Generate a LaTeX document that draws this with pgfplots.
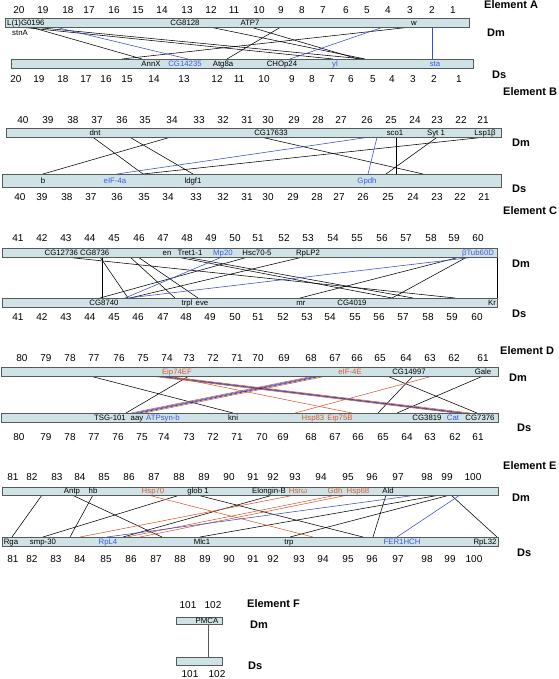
\documentclass[border=0pt]{standalone}
\usepackage{pgfplots}
\pgfplotsset{compat=1.18}
\usepackage{fontspec}
\setmainfont{Liberation Sans}
\definecolor{barfill}{RGB}{207,227,230}
\definecolor{barline}{RGB}{85,90,90}
\definecolor{lblue}{RGB}{55,75,205}
\definecolor{dblue}{RGB}{30,40,150}
\definecolor{tblue}{RGB}{60,90,225}
\definecolor{lred}{RGB}{215,90,50}
\tikzset{
  num/.style={inner sep=0pt,font=\fontsize{10}{12}\selectfont,text height=7.2pt,text depth=0pt},
  gene/.style={inner sep=0pt,font=\fontsize{7.8}{9}\selectfont,text height=5.6pt,text depth=0pt},
  elab/.style={inner sep=0pt,anchor=west,font=\bfseries\fontsize{11}{13}\selectfont,text height=8pt,text depth=0pt},
}
\pgfplotsset{lk/.style={line width=0.55pt}}
\newcommand{\chrbar}[4]{\addplot[fill=barfill,draw=barline,line width=0.8pt] coordinates {(#1,#3)(#2,#3)(#2,#4)(#1,#4)} -- cycle;}
\newcommand{\numrow}[2]{\foreach \nx/\nl in {#2}{\edef\tmp{\noexpand\node[num] at (axis cs:\nx,#1) {\nl};}\tmp}}
\newcommand{\g}[4][black]{\node[gene,text=#1] at (axis cs:#2,#3) {#4};}
\newcommand{\gw}[4][black]{\node[gene,anchor=west,text=#1] at (axis cs:#2,#3) {#4};}
\newcommand{\el}[3]{\node[elab] at (axis cs:#1,#2) {#3};}
\newcommand{\lA}[3][black]{\addplot[#1,lk] coordinates {(#2,27.5)(#3,59)};}
\newcommand{\lB}[3][black]{\addplot[#1,lk] coordinates {(#2,137.3)(#3,174)};}
\newcommand{\lC}[3][black]{\addplot[#1,lk] coordinates {(#2,257)(#3,298)};}
\newcommand{\lD}[3][black]{\addplot[#1,lk] coordinates {(#2,376)(#3,413)};}
\newcommand{\lE}[3][black]{\addplot[#1,lk] coordinates {(#2,495)(#3,537)};}
\begin{document}
\begin{tikzpicture}
\begin{axis}[x=1pt,y=1pt,y dir=reverse,xmin=0,xmax=558,ymin=0,ymax=679,
  hide axis,clip=false]
\addplot[draw=none] coordinates {(0,0)(558,679)};
% ================= Element A =================
\lA{32}{142}
\lA{37}{364}
\lA{24}{333}
\lA{212}{365}
\lA{252}{358}
\lA{280}{227}
\lA{407}{122}
\lA[lblue]{57}{188}
\lA[lblue]{382}{290}
\lA[lblue]{432}{432}
\chrbar{5}{469}{18.5}{27.5}
\chrbar{11}{473}{59}{68}
\numrow{10}{19/20,43/19,68/18,89/17,114/16,138/15,162/14,187/13,211/12,234/11,259/10,281/9,302/8,323/7,346/6,367/5,388/4,410/3,432/2,453/1}
\numrow{79}{16/20,39/19,63/18,86/17,106/16,127/15,154/14,184/13,217/12,239/11,264/10,292/9,312/8,332/7,351/6,373/5,392/4,413/3,434/2,459/1}
\gw{7}{23}{L(1)G0196}
\gw{12}{33}{stnA}
\g{185}{23}{CG8128}
\g{250}{23}{ATP7}
\g{414}{23}{w}
\g{151}{63.5}{AnnX}
\g[tblue]{185}{63.5}{CG14235}
\g{223}{63.5}{Atg8a}
\g{282}{63.5}{CHOp24}
\g[tblue]{335}{63.5}{yl}
\g[tblue]{435}{63.5}{sta}
\el{484}{5}{Element A}
\el{487}{33}{Dm}
\el{492}{75}{Ds}
% ================= Element B =================
\lB{93}{143}
\lB{130}{193}
\lB{170}{43}
\lB{483}{143}
\lB{262}{423}
\lB{396}{396}
\lB{437}{386}
\lB[lblue]{368}{117}
\lB[lblue]{377}{368}
\chrbar{6}{501}{128.3}{137.3}
\chrbar{2}{501}{174}{187}
\numrow{120}{23/40,48/39,73/38,97/37,122/36,145/35,172/34,199/33,223/32,247/31,268/30,294/29,318/28,341/27,367/26,391/25,415/24,437/23,461/22,483/21}
\numrow{197}{20/40,42/39,67/38,91/37,117/36,144/35,168/34,196/33,223/32,247/31,268/30,293/29,317/28,339/27,363/26,388/25,413/24,437/23,460/22,484/21}
\g{95}{132.8}{dnt}
\g{271}{132.8}{CG17633}
\g{395}{132.8}{sco1}
\g{436}{132.8}{Syt 1}
\g{485}{132.8}{Lsp1β}
\g{43}{180.5}{b}
\g[tblue]{115}{180.5}{eIF-4a}
\g{193}{180.5}{ldgf1}
\g[tblue]{367}{180.5}{Gpdh}
\el{503}{92}{Element B}
\el{512}{143}{Dm}
\el{512}{188}{Ds}
% ================= Element C =================
\lC{102}{102}
\lC{100}{128}
\lC{65}{455}
\lC{130}{175}
\lC{138}{198}
\lC{177}{392}
\lC{185}{413}
\lC{248}{100}
\lC{303}{130}
\lC{460}{300}
\lC{467}{392}
\lC{497}{497}
\lC[lblue]{222}{125}
\lC[lblue]{475}{128}
\chrbar{2}{497}{248}{257}
\chrbar{2}{497}{298}{307}
\numrow{238}{18/41,42/42,66/43,90/44,114/45,139/46,163/47,187/48,211/49,235/50,258/51,284/52,308/53,333/54,357/55,382/56,406/57,431/58,454/59,478/60}
\numrow{317}{18/41,42/42,66/43,90/44,114/45,138/46,163/47,186/48,210/49,235/50,258/51,283/52,307/53,330/54,355/55,379/56,403/57,428/58,452/59,477/60}
\g{77}{252.5}{CG12736 CG8736}
\g{167}{252.5}{en}
\g{190}{252.5}{Tret1-1}
\g[tblue]{223}{252.5}{Mp20}
\g{257}{252.5}{Hsc70-5}
\g{308}{252.5}{RpLP2}
\g[tblue]{478}{252.5}{βTub60D}
\g{104}{302.5}{CG8740}
\g{187}{302.5}{trpl}
\g{202}{302.5}{eve}
\g{301}{302.5}{mr}
\g{352}{302.5}{CG4019}
\g{492}{302.5}{Kr}
\el{503}{210}{Element C}
\el{512}{263}{Dm}
\el{512}{313}{Ds}
% ================= Element D =================
\lD{90}{233}
\lD{189}{126}
\lD{413}{378}
\lD{387}{477}
\lD{483}{397}
\lD[lred]{150}{455}
\lD[lblue]{155}{460}
\lD[dblue]{159}{464}
\lD[lred]{164}{470}
\lD[lred]{168}{352}
\lD[lred]{314}{131}
\lD[lblue]{318}{135}
\lD[dblue]{322}{139}
\lD[lred]{327}{144}
\lD[lred]{433}{295}
\chrbar{1}{498}{367}{376}
\chrbar{1}{498}{413}{422}
\numrow{358}{22/80,46/79,70/78,94/77,119/76,143/75,167/74,189/73,213/72,237/71,258/70,284/69,311/68,335/67,357/66,380/65,406/64,430/63,454/62,483/61}
\numrow{437}{19/80,46/79,70/78,94/77,118/76,142/75,164/74,189/73,213/72,237/71,262/70,283/69,311/68,335/67,358/66,383/65,407/64,430/63,455/62,478/61}
\g[lred]{177}{371.5}{Eip74EF}
\g[lred]{350}{371.5}{eIF-4E}
\g{409}{371.5}{CG14997}
\g{483}{371.5}{Gale}
\g{110}{417.5}{TSG-101}
\g{137}{417.5}{aay}
\g[tblue]{163}{417.5}{ATPsyn-b}
\g{233}{417.5}{kni}
\g[lred]{313}{417.5}{Hsp83}
\g[lred]{340}{417.5}{Eip75B}
\g{427}{417.5}{CG3819}
\g[tblue]{453}{417.5}{Cat}
\g{480}{417.5}{CG7376}
\el{500}{350}{Element D}
\el{509}{377}{Dm}
\el{517}{427}{Ds}
% ================= Element E =================
\lE{42}{12}
\lE{93}{70}
\lE{72}{162}
\lE{180}{43}
\lE{197}{363}
\lE{273}{123}
\lE{386}{373}
\lE{440}{200}
\lE{450}{290}
\lE{451}{497}
\lE[lred]{148}{313}
\lE[lred]{295}{80}
\lE[lred]{337}{127}
\lE[lred]{348}{140}
\lE[lblue]{417}{107}
\lE[lblue]{460}{397}
\chrbar{2}{498}{487}{495}
\chrbar{2}{498}{537}{546}
\numrow{477}{13/81,32/82,57/83,80/84,104/85,129/86,154/87,179/88,204/89,229/90,253/91,273/92,295/93,321/94,348/95,372/96,398/97,427/98,447/99,473/100}
\numrow{559}{13/81,32/82,56/83,80/84,106/85,131/86,156/87,180/88,205/89,229/90,253/91,273/92,299/93,323/94,348/95,372/96,398/97,427/98,450/99,474/100}
\g{72}{491}{Antp}
\g{93}{491}{hb}
\g[lred]{153}{491}{Hsp70}
\g{198}{491}{glob 1}
\g{269}{491}{Elongin-B}
\g[lred]{298}{491}{Hsrω}
\g[lred]{335}{491}{Gdh}
\g[lred]{358}{491}{Hsp68}
\g{388}{491}{Ald}
\g{11}{541.5}{Rga}
\g{43}{541.5}{smp-30}
\g[tblue]{108}{541.5}{RpL4}
\g{202}{541.5}{Mlc1}
\g{289}{541.5}{trp}
\g[tblue]{402}{541.5}{FER1HCH}
\g{485}{541.5}{RpL32}
\el{503}{465}{Element E}
\el{512}{497}{Dm}
\el{517}{552}{Ds}
% ================= Element F =================
\addplot[barline,line width=0.8pt] coordinates {(208,624)(208,657)};
\chrbar{176}{222}{617}{624}
\chrbar{176}{222}{657}{665}
\numrow{605}{188/101,213/102}
\numrow{674}{190/101,217/102}
\g{207}{620.5}{PMCA}
\el{247}{603}{Element F}
\el{250}{624}{Dm}
\el{248}{665}{Ds}
\end{axis}
\end{tikzpicture}
\end{document}
